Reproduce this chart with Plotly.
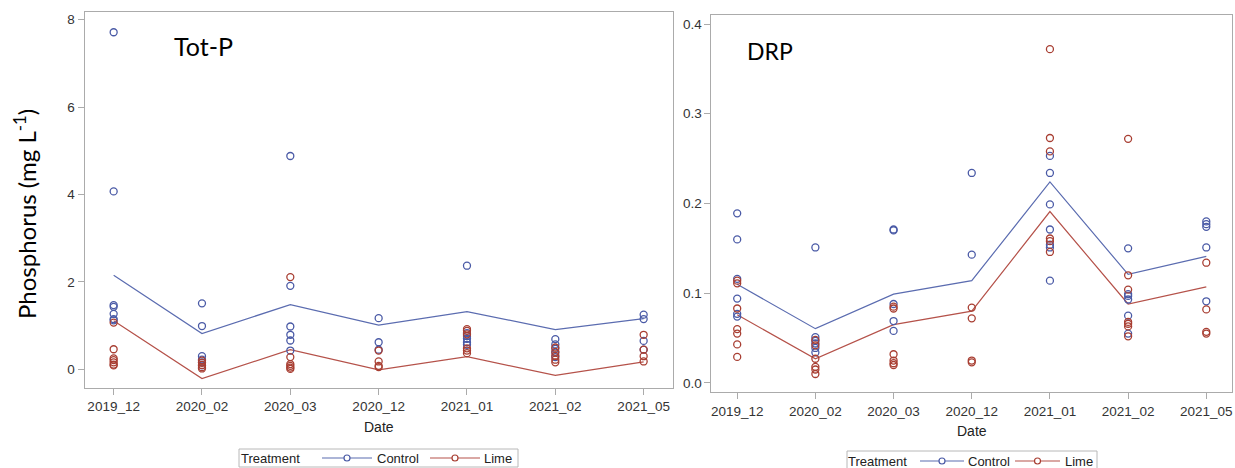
import plotly.graph_objects as go

W, H = 1235, 468

dates = ["2019_12", "2020_02", "2020_03", "2020_12", "2021_01", "2021_02", "2021_05"]
treatments = ["Control", "Lime"]

# Total phosphorus (mg/L), individual samples per sampling date
totp_control = [
    [7.71, 4.07, 1.47, 1.43, 1.27, 1.15, 1.12],
    [1.51, 0.99, 0.30, 0.22, 0.16, 0.09],
    [4.88, 1.91, 0.98, 0.79, 0.66, 0.43],
    [1.17, 0.62, 0.45],
    [2.37, 0.83, 0.76, 0.70, 0.62, 0.56],
    [0.69, 0.57, 0.47, 0.38, 0.28],
    [1.25, 1.15, 0.65, 0.45],
]
totp_lime = [
    [1.07, 0.46, 0.25, 0.21, 0.16, 0.11, 0.09],
    [0.20, 0.15, 0.10, 0.05, 0.02],
    [2.11, 0.28, 0.12, 0.08, 0.04, 0.01],
    [0.43, 0.18, 0.08, 0.05],
    [0.92, 0.88, 0.80, 0.48, 0.43, 0.37],
    [0.50, 0.40, 0.31, 0.22, 0.16],
    [0.79, 0.45, 0.30, 0.18],
]
# Model estimates per date
totp_fit_control = [2.15, 0.82, 1.48, 1.01, 1.32, 0.91, 1.16]
totp_fit_lime = [1.11, -0.21, 0.45, -0.01, 0.29, -0.14, 0.17]

# Dissolved reactive phosphorus (mg/L)
drp_control = [
    [0.189, 0.160, 0.116, 0.094, 0.077, 0.074],
    [0.151, 0.051, 0.047, 0.044, 0.039, 0.034],
    [0.171, 0.170, 0.088, 0.069, 0.058],
    [0.234, 0.143],
    [0.253, 0.234, 0.199, 0.171, 0.154, 0.151, 0.114],
    [0.150, 0.099, 0.097, 0.093, 0.075, 0.055],
    [0.180, 0.177, 0.174, 0.151, 0.091],
]
drp_lime = [
    [0.114, 0.111, 0.083, 0.060, 0.055, 0.043, 0.029],
    [0.048, 0.042, 0.027, 0.018, 0.015, 0.010],
    [0.085, 0.083, 0.032, 0.025, 0.022, 0.020],
    [0.084, 0.072, 0.025, 0.023],
    [0.372, 0.273, 0.258, 0.161, 0.158, 0.146],
    [0.272, 0.120, 0.104, 0.068, 0.066, 0.063, 0.052],
    [0.134, 0.082, 0.057, 0.055],
]
drp_fit_control = [0.110, 0.0605, 0.099, 0.114, 0.224, 0.121, 0.141]
drp_fit_lime = [0.076, 0.027, 0.065, 0.080, 0.191, 0.088, 0.107]

BLUE_M, RED_M = "#4a5aa6", "#a83e32"
BLUE_L, RED_L = "#5b6cb0", "#b5524a"
FRAME = "#ababab"
SANS = "Liberation Sans, Arial, sans-serif"
TICKFONT = dict(family=SANS, size=13.5, color="#333333")
LEGFONT = dict(family=SANS, size=13, color="#222222")


def flatten(groups):
    xs, ys = [], []
    for d, vals in zip(dates, groups):
        xs += [d] * len(vals)
        ys += vals
    return xs, ys


fig = go.Figure()

panels = [
    ("x", "y", totp_control, totp_lime, totp_fit_control, totp_fit_lime),
    ("x2", "y2", drp_control, drp_lime, drp_fit_control, drp_fit_lime),
]

for xa, ya, ctl, lim, fctl, flim in panels:
    for fit, col in ((fctl, BLUE_L), (flim, RED_L)):
        fig.add_trace(go.Scatter(x=dates, y=fit, mode="lines", xaxis=xa, yaxis=ya,
                                 line=dict(color=col, width=1.2), showlegend=False,
                                 hoverinfo="skip"))
    for groups, col in ((ctl, BLUE_M), (lim, RED_M)):
        gx, gy = flatten(groups)
        fig.add_trace(go.Scatter(x=gx, y=gy, mode="markers", xaxis=xa, yaxis=ya,
                                 marker=dict(symbol="circle-open", size=7, color=col,
                                             line=dict(width=1.3, color=col)),
                                 showlegend=False))


def px_x(a, b):
    return [a / W, b / W]


def px_y(top, bottom):
    return [1 - bottom / H, 1 - top / H]


axis_common = dict(showline=True, linecolor=FRAME, linewidth=1, mirror=True,
                   showgrid=False, zeroline=False, ticks="outside", ticklen=6,
                   tickcolor=FRAME, tickfont=TICKFONT)

fig.update_layout(
    width=W, height=H,
    margin=dict(l=0, r=0, t=0, b=0),
    paper_bgcolor="white", plot_bgcolor="white",
    showlegend=False,
    xaxis=dict(domain=px_x(84.5, 672.8), type="category", range=[-0.33, 6.33],
               anchor="y", **axis_common),
    yaxis=dict(domain=px_y(11.7, 387.7), range=[-0.42, 8.18], tickvals=[0, 2, 4, 6, 8],
               anchor="x", **axis_common),
    xaxis2=dict(domain=px_x(711.4, 1232.1), type="category", range=[-0.33, 6.33],
                anchor="y2", **axis_common),
    yaxis2=dict(domain=px_y(15.3, 392.3), range=[-0.0104, 0.4097],
                tickvals=[0, 0.1, 0.2, 0.3, 0.4], tickformat=".1f",
                anchor="x2", **axis_common),
)


def add_text(text, x, y, font, **kw):
    kw.setdefault("xanchor", "center")
    kw.setdefault("yanchor", "middle")
    fig.add_annotation(xref="paper", yref="paper", showarrow=False, text=text,
                       x=x / W, y=1 - y / H, font=font, **kw)


def add_legend(left, top, bottom, right, cy, title_x, entries):
    """Boxed key: title, then a line-with-circle sample and label per treatment."""
    fig.add_shape(type="rect", xref="paper", yref="paper",
                  x0=left / W, x1=right / W, y0=1 - bottom / H, y1=1 - top / H,
                  line=dict(color="#b8b8b8", width=1), fillcolor="white", layer="above")
    add_text("Treatment", title_x, cy, LEGFONT, xanchor="left")
    for name, (x0, x1, tx), lcol, mcol in entries:
        fig.add_shape(type="line", xref="paper", yref="paper",
                      x0=x0 / W, x1=x1 / W, y0=1 - cy / H, y1=1 - cy / H,
                      line=dict(color=lcol, width=1.2), layer="above")
        mx, r = (x0 + x1) / 2, 3
        fig.add_shape(type="circle", xref="paper", yref="paper",
                      x0=(mx - r) / W, x1=(mx + r) / W,
                      y0=1 - (cy + r) / H, y1=1 - (cy - r) / H,
                      line=dict(color=mcol, width=1.2), fillcolor="white", layer="above")
        add_text(name, tx, cy, LEGFONT, xanchor="left")


colors = {"Control": (BLUE_L, BLUE_M), "Lime": (RED_L, RED_M)}
left_slots = {"Control": (322, 372, 375), "Lime": (430, 480, 482)}
right_slots = {"Control": (920, 964, 966), "Lime": (1015, 1060, 1063)}

add_legend(239, 449, 467, 518, 458, 239,
           [(t, left_slots[t], *colors[t]) for t in treatments])
add_legend(847, 451, 470, 1097, 461, 846,
           [(t, right_slots[t], *colors[t]) for t in treatments])

add_text("Tot-P", 203, 46, dict(family="Lato", size=25, color="black"))
add_text("DRP", 770, 51, dict(family="Lato", size=23, color="black"))
add_text("Phosphorus (mg L<sup>-1</sup>)", 25, 214,
         dict(family="Lato", size=24, color="black"), textangle=-90)
add_text("Date", 378.6, 427, dict(family=SANS, size=14, color="#222222"))
add_text("Date", 971.7, 430.7, dict(family=SANS, size=14, color="#222222"))

fig.write_html("out.html")
